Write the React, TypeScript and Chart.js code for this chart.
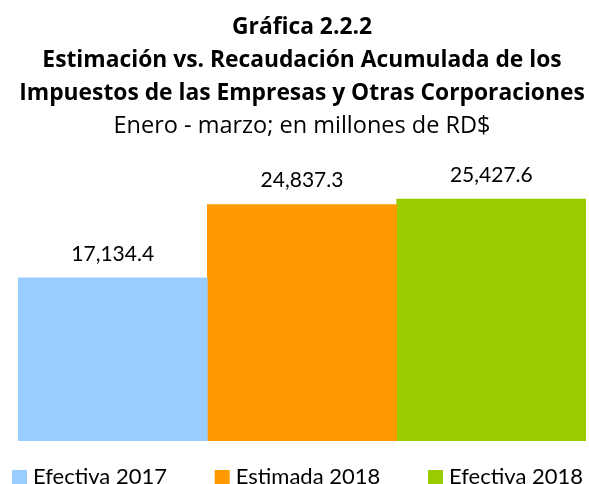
import React, { useEffect, useRef } from "react";
import { Chart, registerables } from "chart.js";

Chart.register(...registerables);

const categories = ["Enero - marzo"];
const seriesNames = ["Efectiva 2017", "Estimada 2018", "Efectiva 2018"];
const seriesValues = [17134.4, 24837.3, 25427.6];
const seriesColors = ["#99CCFF", "#FF9900", "#99CC00"];
const titleLines = [
  "Gráfica 2.2.2",
  "Estimación vs. Recaudación Acumulada de los",
  "Impuestos de las Empresas y Otras Corporaciones",
];
const subtitleText = "Enero - marzo; en millones de RD$";

const TITLE_FONT = "'Open Sans', Lato, sans-serif";
const FONT = "Lato, 'Open Sans', sans-serif";

const valueLabels = {
  id: "valueLabels",
  afterDatasetsDraw(chart: any) {
    const ctx = chart.ctx;
    ctx.save();
    ctx.font = `21px ${FONT}`;
    ctx.fillStyle = "#000";
    ctx.textAlign = "center";
    ctx.textBaseline = "middle";
    chart.data.datasets.forEach((ds: any, i: number) => {
      const meta = chart.getDatasetMeta(i);
      meta.data.forEach((el: any, j: number) => {
        const v = ds.data[j] as number;
        const txt = v.toLocaleString("en-US", {
          minimumFractionDigits: 1,
          maximumFractionDigits: 1,
        });
        ctx.fillText(txt, el.x, el.y - 24);
      });
    });
    ctx.restore();
  },
};

const spreadLegend = {
  id: "spreadLegend",
  afterDraw(chart: any) {
    const ctx = chart.ctx;
    const left = 12;
    const right = 583;
    const box = 15;
    const gapText = 6;
    const top = chart.chartArea.bottom + 29;
    ctx.save();
    ctx.font = `22px ${FONT}`;
    const items = chart.data.datasets.map((ds: any) => ({
      label: ds.label as string,
      color: ds.backgroundColor as string,
      w: box + gapText + ctx.measureText(ds.label).width,
    }));
    const total = items.reduce((s: number, it: any) => s + it.w, 0);
    const gap = items.length > 1 ? (right - left - total) / (items.length - 1) : 0;
    let x = left;
    ctx.textAlign = "left";
    ctx.textBaseline = "middle";
    items.forEach((it: any) => {
      ctx.fillStyle = it.color;
      ctx.fillRect(x, top, box, box);
      ctx.fillStyle = "#000";
      ctx.fillText(it.label, x + box + gapText, top + box / 2 - 1);
      x += it.w + gap;
    });
    ctx.restore();
  },
};

export default function App() {
  const ref = useRef<HTMLCanvasElement | null>(null);
  useEffect(() => {
    if (!ref.current) return;
    const chart = new Chart(ref.current, {
      type: "bar",
      data: {
        labels: categories,
        datasets: seriesNames.map((name, i) => ({
          label: name,
          data: [seriesValues[i]],
          backgroundColor: seriesColors[i],
          borderWidth: 0,
          categoryPercentage: 1,
          barPercentage: 1,
        })),
      },
      options: {
        animation: false,
        responsive: false,
        maintainAspectRatio: false,
        layout: { padding: { left: 18, right: 3, top: 0, bottom: 43 } },
        scales: {
          x: { display: false },
          y: { display: false, min: 0, max: 30250 },
        },
        plugins: {
          tooltip: { enabled: false },
          legend: { display: false },
          title: {
            display: true,
            text: titleLines,
            color: "#000",
            font: { family: TITLE_FONT, size: 22.8, weight: "bold", lineHeight: 1.45 },
            padding: { top: 11, bottom: 0 },
          },
          subtitle: {
            display: true,
            text: subtitleText,
            color: "#000",
            font: { family: TITLE_FONT, size: 23.5, weight: "normal", lineHeight: 1.4 },
            padding: { top: 0, bottom: 10 },
          },
        },
      },
      plugins: [valueLabels, spreadLegend],
    });
    return () => chart.destroy();
  }, []);
  return (
    <div style={{ position: "fixed", left: 0, top: 0, width: 589, height: 484, background: "#fff" }}>
      <canvas ref={ref} width={589} height={484} />
    </div>
  );
}
